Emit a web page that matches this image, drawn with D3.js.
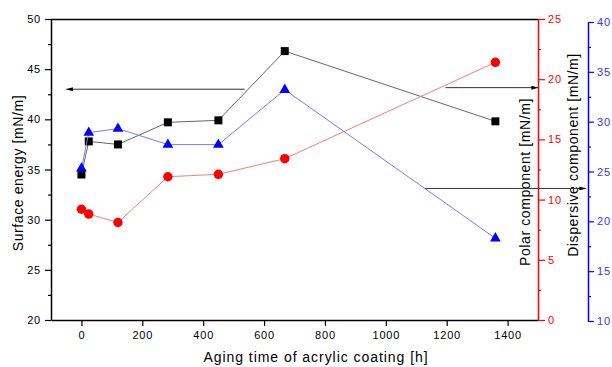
<!doctype html>
<html lang="en">
<head>
  <meta charset="utf-8" />
  <title>Surface energy vs aging time</title>
  <script src="https://cdn.jsdelivr.net/npm/d3@7"></script>
  <style>
    body { margin: 0; background: #fff; }
    svg text { font-family: "Liberation Sans", Arial, sans-serif; }
  </style>
</head>
<body>
  <div id="chart"></div>
  <script>
    // values
    const hours = [0, 24, 120, 284, 450, 668, 1360];
    const surfaceEnergy = [34.5, 37.8, 37.5, 39.7, 39.9, 46.8, 39.8];
    const polarComp = [9.2, 8.8, 8.1, 11.9, 12.1, 13.4, 21.4];
    const dispersiveComp = [25.3, 28.9, 29.3, 27.7, 27.7, 33.2, 18.3];
    const xTicks = [0, 200, 400, 600, 800, 1000, 1200, 1400];

    const w = 612, h = 367;
    const plotL = 51, plotR = 538, plotT = 19, plotB = 320;

    const svg = d3.select("#chart").append("svg").attr("width", w).attr("height", h);

    const x = d3.scaleLinear().domain([-100, 1500]).range([plotL, plotR]);
    const yLeft = d3.scaleLinear().domain([20, 50]).range([plotB, plotT]);
    const yRed = d3.scaleLinear().domain([0, 25]).range([plotB, plotT]);
    const yBlue = d3.scaleLinear().domain([10, 40]).range([321, 22]);

    // top frame line
    svg.append("line")
      .attr("x1", plotL).attr("x2", plotR).attr("y1", plotT + 0.5).attr("y2", plotT + 0.5)
      .attr("stroke", "#000").attr("stroke-width", 1.5);

    const styleAxis = (g, color) => {
      g.selectAll(".domain").attr("stroke", color).attr("stroke-width", 1.5);
      g.selectAll("line").attr("stroke", color).attr("stroke-width", 1.2);
      g.selectAll("text").attr("fill", color).style("font-size", "11px").style("letter-spacing", "0.8px");
    };

    const minorTicks = (lo, hi, step) => d3.range(lo + step / 2, hi, step);

    // bottom axis
    const gx = svg.append("g").attr("transform", `translate(0,${plotB})`)
      .call(d3.axisBottom(x).tickValues(xTicks).tickFormat(d3.format("d"))
        .tickSize(6).tickSizeOuter(0).tickPadding(5));
    styleAxis(gx, "#000");

    // left axis
    const gl = svg.append("g").attr("transform", `translate(${plotL},0)`)
      .call(d3.axisLeft(yLeft).ticks(6).tickSize(6).tickSizeOuter(0).tickPadding(4));
    styleAxis(gl, "#000");
    const glm = svg.append("g").attr("transform", `translate(${plotL},0)`)
      .call(d3.axisLeft(yLeft).tickValues(minorTicks(20, 50, 5)).tickSize(3).tickFormat(""));
    glm.select(".domain").remove();
    styleAxis(glm, "#000");

    // red right axis
    const gr = svg.append("g").attr("transform", `translate(${plotR},0)`)
      .call(d3.axisRight(yRed).ticks(5).tickSize(7).tickSizeOuter(0).tickPadding(3));
    styleAxis(gr, "#ff0000");
    const grm = svg.append("g").attr("transform", `translate(${plotR},0)`)
      .call(d3.axisRight(yRed).tickValues(minorTicks(0, 25, 5)).tickSize(3).tickFormat(""));
    grm.select(".domain").remove();
    styleAxis(grm, "#ff0000");

    // blue offset axis
    const blueX = 588;
    const gb = svg.append("g").attr("transform", `translate(${blueX},0)`)
      .call(d3.axisRight(yBlue).ticks(6).tickSize(6).tickSizeOuter(0).tickPadding(3));
    styleAxis(gb, "#0000ff");
    gb.selectAll("text").attr("fill", "#3333ff");
    const gbm = svg.append("g").attr("transform", `translate(${blueX},0)`)
      .call(d3.axisRight(yBlue).tickValues(minorTicks(10, 40, 5)).tickSize(3).tickFormat(""));
    gbm.select(".domain").remove();
    styleAxis(gbm, "#0000ff");

    // axis titles
    const title = (txt, tx, ty, rot, sp) => svg.append("text")
      .attr("transform", `translate(${tx},${ty}) rotate(${rot})`)
      .attr("text-anchor", "middle")
      .style("font-size", "14px")
      .style("letter-spacing", sp + "px")
      .attr("fill", "#000")
      .text(txt);
    title("Aging time of acrylic coating [h]", 316, 362, 0, 0.95);
    title("Surface energy [mN/m]", 23, 173, -90, 0.6);
    title("Polar component [mN/m]", 530, 182, -90, 0.6);
    title("Dispersive component [mN/m]", 578, 155, -90, 0.6);

    // series
    const series = [
      { vals: surfaceEnergy, y: yLeft, line: "#666", fill: "#000", sym: d3.symbolSquare, size: 64 },
      { vals: polarComp, y: yRed, line: "#ff7a7a", fill: "#ff0000", sym: d3.symbolCircle, size: 70 },
      { vals: dispersiveComp, y: yBlue, line: "#7a7aff", fill: "#0000ff", sym: d3.symbolTriangle, size: 50 }
    ];

    series.forEach(s => {
      const line = d3.line().x((d, i) => x(hours[i])).y(d => s.y(d));
      svg.append("path").datum(s.vals)
        .attr("d", line).attr("fill", "none")
        .attr("stroke", s.line).attr("stroke-width", 1);
      svg.append("g").selectAll("path").data(s.vals).enter().append("path")
        .attr("transform", (d, i) => `translate(${x(hours[i])},${s.y(d)})`)
        .attr("d", d3.symbol().type(s.sym).size(s.size))
        .attr("fill", s.fill);
    });

    // arrows pointing at each series' axis
    svg.append("defs").append("marker")
      .attr("id", "head").attr("viewBox", "0 0 10 6")
      .attr("refX", 10).attr("refY", 3)
      .attr("markerWidth", 7).attr("markerHeight", 4)
      .attr("markerUnits", "userSpaceOnUse")
      .attr("orient", "auto")
      .append("path").attr("d", "M0,0 L10,3 L0,6 Z").attr("fill", "#000");

    const arrows = [
      { x1: x(536), x2: x(-50), y: yLeft(43) },
      { x1: x(1196), x2: plotR, y: yRed(19.3) },
      { x1: x(1129), x2: blueX - 2, y: yBlue(23.3) }
    ];
    svg.append("g").selectAll("line").data(arrows).enter().append("line")
      .attr("x1", d => d.x1).attr("x2", d => d.x2)
      .attr("y1", d => d.y).attr("y2", d => d.y)
      .attr("stroke", "#333").attr("stroke-width", 1)
      .attr("marker-end", "url(#head)");
  </script>
</body>
</html>
